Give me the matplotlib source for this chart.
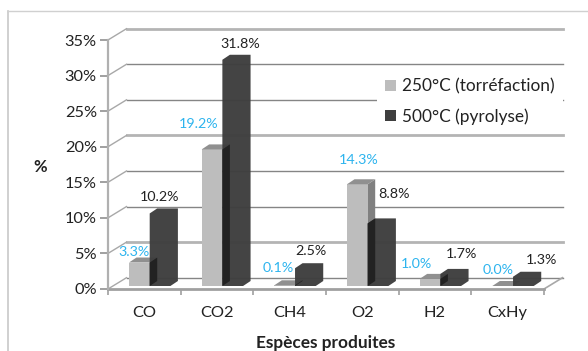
import matplotlib
matplotlib.use('Agg')
import matplotlib.pyplot as plt
from matplotlib.patches import Polygon, Patch

plt.rcParams['font.family'] = ['Lato', 'DejaVu Sans']

especes = ['CO', 'CO2', 'CH4', 'O2', 'H2', 'CxHy']
torrefaction = [3.3, 19.2, 0.1, 14.3, 1.0, 0.0]
pyrolyse = [10.2, 31.8, 2.5, 8.8, 1.7, 1.3]
pct_ticks = [0, 5, 10, 15, 20, 25, 30, 35]

# decalage des etiquettes par rapport au haut de la barre, en pixels
off_torr = [(-5.5, 11), (-13.5, 25), (-6.5, 17), (1.5, 24.5), (-13.5, 15), (-4.5, 16)]
off_pyro = [(-0.5, 16), (7.5, 16), (5.5, 17), (15.5, 29.5), (10.5, 20), (18.5, 17)]

W, H = 588, 351
fig = plt.figure(figsize=(W/100, H/100), dpi=100)
x0, x1, y_bas, y_haut = 108, 544, 289, 40
ax = fig.add_axes([x0/W, 1-y_bas/H, (x1-x0)/W, (y_bas-y_haut)/H])
ax.set_xlim(0, 6)
ax.set_ylim(0, 35)
ax.patch.set_visible(False)

px = 6/(x1-x0)           # unites x par pixel
py = 35/(y_bas-y_haut)   # unites y par pixel
mur_dx, mur_dy = 18.5*px, 11.3*py
prof_dx, prof_dy = 7.5*px, 5*py
larg = 20.7*px
decal = 21*px
sol = 3*py

for s in ['top', 'right', 'bottom', 'left']:
    ax.spines[s].set_visible(False)

# parois du fond
for v in pct_ticks:
    epais = v in (5, 20, 35)
    col, lw = ('#b4b4b4', 2.0) if epais else ('#858585', 1.0)
    ax.plot([mur_dx, 6+mur_dx], [v+mur_dy, v+mur_dy], color=col, lw=lw, clip_on=False, zorder=1)
    ax.plot([0, mur_dx], [v, v+mur_dy], color='#a8a8a8', lw=1.0, clip_on=False, zorder=1)
ax.plot([6, 6+mur_dx], [0, mur_dy], color='#a8a8a8', lw=1.2, clip_on=False, zorder=1)
ax.plot([0, 6], [0, 0], color='#a0a0a0', lw=2.0, clip_on=False, zorder=2)
ax.plot([0, 0], [0, 35], color='#b0b0b0', lw=1.6, clip_on=False, zorder=2)


def poly(pts, col, z, alpha=1.0):
    ax.add_patch(Polygon(pts, closed=True, fc=col, ec='none', alpha=alpha, clip_on=False, zorder=z))


for i in range(len(especes)):
    g = i+decal
    t = sol+torrefaction[i]
    poly([(g, sol), (g+larg, sol), (g+larg, t), (g, t)], '#bdbdbd', 4)
    poly([(g, t), (g+larg, t), (g+larg+prof_dx, t+prof_dy), (g+prof_dx, t+prof_dy)], '#909090', 4)
    poly([(g+larg, sol), (g+larg+prof_dx, sol+prof_dy), (g+larg+prof_dx, t+prof_dy), (g+larg, t)], '#808080', 3)

    d = g+larg
    h = sol+pyrolyse[i]
    poly([(d, sol), (d+larg, sol), (d+larg+prof_dx, sol+prof_dy), (d+larg+prof_dx, h+prof_dy),
          (d+prof_dx, h+prof_dy), (d, h)], '#3e3e3e', 5, alpha=0.97)
    # face cachee de la barre claire, vue a travers la barre sombre
    haut = min(t, h)
    if haut > sol:
        poly([(d, sol), (d+prof_dx, sol+prof_dy), (d+prof_dx, min(t+prof_dy, h+prof_dy)), (d, haut)], '#222222', 6)

    ax.annotate('%.1f%%' % torrefaction[i], (g+larg/2, t), xytext=off_torr[i], textcoords='offset pixels',
                ha='center', va='center', fontsize=10.3, color='#2db4ee', annotation_clip=False, zorder=8)
    ax.annotate('%.1f%%' % pyrolyse[i], (d+larg/2, h), xytext=off_pyro[i], textcoords='offset pixels',
                ha='center', va='center', fontsize=10.3, color='#222222', annotation_clip=False, zorder=8)

ax.set_yticks(pct_ticks)
ax.set_yticklabels(['%d%%' % v for v in pct_ticks], fontsize=11.8, color='#222222')
ax.tick_params(axis='y', length=5.5, width=1.2, color='#909090', pad=2.5)
ax.set_xticks(range(7))
ax.set_xticklabels([])
ax.tick_params(axis='x', which='major', length=4, width=1.2, color='#a0a0a0')
ax.set_xticks([i+0.5 for i in range(6)], minor=True)
ax.set_xticklabels(especes, minor=True, fontsize=11.8, color='#222222')
ax.tick_params(axis='x', which='minor', length=0, pad=12)

fig.text(326/W, 1-343/H, 'Espèces produites', ha='center', va='center', fontsize=12.4, fontweight='bold', color='#222222')
fig.text(40/W, 1-167/H, '%', ha='center', va='center', fontsize=12, fontweight='bold', color='#222222')

# cadre du graphique
fig.add_artist(plt.Line2D([8/W, 8/W], [0, 1-11/H], color='#c8c8c8', lw=1.2))
fig.add_artist(plt.Line2D([8/W, 1], [1-11/H, 1-11/H], color='#d0d0d0', lw=1.0))

poignees = [Patch(fc='#bdbdbd', ec='none', label='250°C (torréfaction)'),
            Patch(fc='#3e3e3e', ec='none', label='500°C (pyrolyse)')]
leg = fig.legend(handles=poignees, loc='center', bbox_to_anchor=(470/W, 1-101.5/H), frameon=True, framealpha=1,
                 edgecolor='none', facecolor='white', fontsize=12.4, fancybox=False, handlelength=0.62, handleheight=0.62,
                 handletextpad=0.35, labelspacing=0.8, labelcolor='#222222', alignment='left', borderpad=0.5)
leg.set_zorder(7)

fig.savefig('out.png', dpi=100)
